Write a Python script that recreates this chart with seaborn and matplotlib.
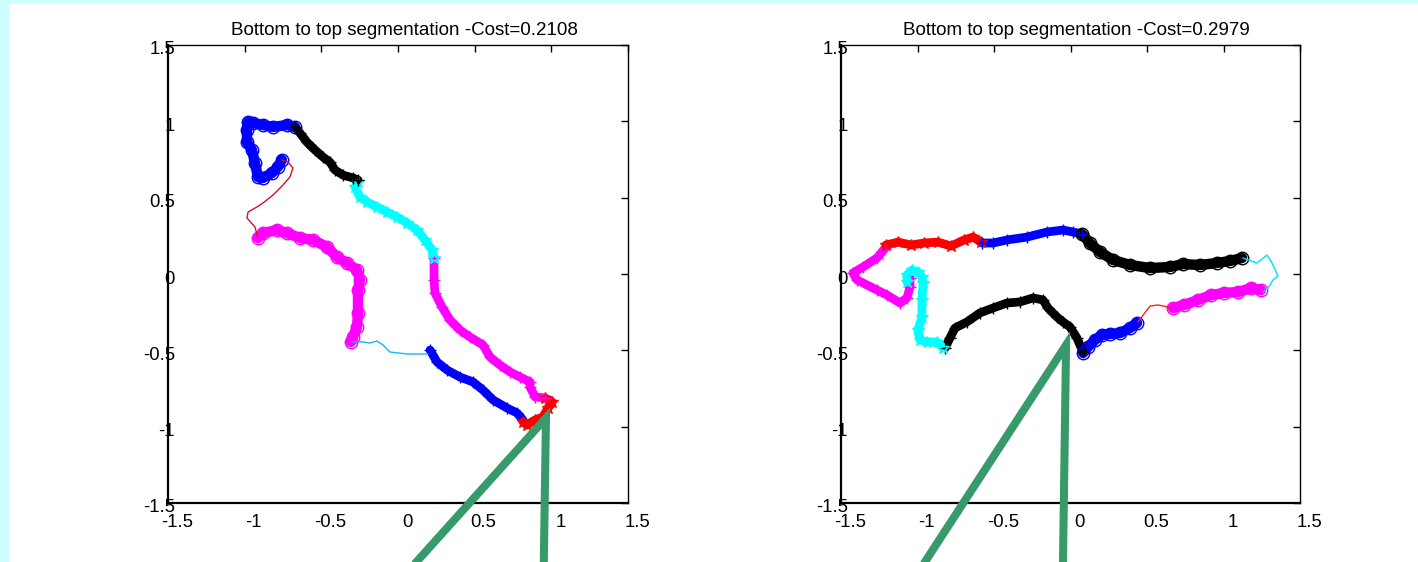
import numpy as np
import pandas as pd
import seaborn as sns
import matplotlib
matplotlib.use("Agg")
import matplotlib.pyplot as plt
from matplotlib.patches import Rectangle
from matplotlib.transforms import ScaledTranslation

# ---------------- data ----------------
titles = ["Bottom to top segmentation -Cost=0.2108",
          "Bottom to top segmentation -Cost=0.2979"]
tick_values = [-1.5, -1, -0.5, 0, 0.5, 1, 1.5]
tick_labels = ["-1.5", "-1", "-0.5", "0", "0.5", "1", "1.5"]

# left trajectory, segment by segment
l_blue_o_x = [-0.672, -0.724, -0.815, -0.881, -0.946, -0.978, -0.985, -0.985, -0.952, -0.933, -0.913, -0.881, -0.822, -0.783, -0.757]
l_blue_o_y = [0.963, 0.976, 0.963, 0.976, 0.989, 0.995, 0.943, 0.864, 0.812, 0.727, 0.635, 0.629, 0.661, 0.701, 0.747]
l_red_thin_x = [-0.757, -0.718, -0.685, -0.705, -0.750, -0.815, -0.881, -0.920, -0.978, -0.985, -0.933, -0.913]
l_red_thin_y = [0.747, 0.733, 0.694, 0.635, 0.583, 0.517, 0.465, 0.439, 0.406, 0.367, 0.308, 0.236]
l_mag_o_x = [-0.913, -0.881, -0.789, -0.724, -0.639, -0.554, -0.463, -0.398, -0.333, -0.267, -0.248, -0.261, -0.261, -0.267, -0.294, -0.307]
l_mag_o_y = [0.236, 0.268, 0.288, 0.268, 0.236, 0.223, 0.177, 0.111, 0.072, 0.026, -0.039, -0.105, -0.255, -0.347, -0.413, -0.445]
l_sky_thin_x = [-0.307, -0.228, -0.183, -0.137, -0.098, -0.052, 0.059, 0.196]
l_sky_thin_y = [-0.445, -0.445, -0.452, -0.439, -0.465, -0.511, -0.524, -0.524]
l_blue_p_x = [0.209, 0.254, 0.320, 0.404, 0.489, 0.554, 0.620, 0.711, 0.776, 0.815]
l_blue_p_y = [-0.498, -0.576, -0.629, -0.675, -0.707, -0.760, -0.825, -0.878, -0.910, -0.956]
l_red_s_x = [0.815, 0.841, 0.894, 0.946, 0.978, 1.005, 0.959]
l_red_s_y = [-0.969, -0.989, -0.956, -0.936, -0.878, -0.838, -0.812]
l_mag_p_x = [0.959, 0.894, 0.861, 0.861, 0.796, 0.731, 0.665, 0.600, 0.554, 0.470, 0.404, 0.339, 0.287, 0.241, 0.235, 0.235]
l_mag_p_y = [-0.812, -0.805, -0.740, -0.707, -0.675, -0.642, -0.596, -0.544, -0.465, -0.413, -0.367, -0.301, -0.216, -0.124, -0.039, 0.105]
l_cyan_s_x = [0.235, 0.222, 0.176, 0.124, 0.059, -0.007, -0.072, -0.137, -0.202, -0.248, -0.280, -0.261]
l_cyan_s_y = [0.105, 0.157, 0.223, 0.288, 0.334, 0.373, 0.406, 0.439, 0.472, 0.504, 0.570, 0.602]
l_black_p_x = [-0.261, -0.294, -0.359, -0.411, -0.444, -0.489, -0.541, -0.594, -0.639, -0.672]
l_black_p_y = [0.616, 0.629, 0.648, 0.681, 0.733, 0.766, 0.812, 0.864, 0.923, 0.963]

# right trajectory, segment by segment
r_mag_p_x = [-1.049, -1.049, -1.069, -1.114, -1.199, -1.265, -1.395, -1.422, -1.356, -1.265, -1.212]
r_mag_p_y = [-0.026, -0.085, -0.157, -0.190, -0.138, -0.105, -0.039, 0.007, 0.046, 0.105, 0.170]
r_red_s_x = [-1.206, -1.127, -1.042, -0.958, -0.866, -0.781, -0.696, -0.637, -0.585]
r_red_s_y = [0.190, 0.209, 0.190, 0.203, 0.209, 0.183, 0.223, 0.242, 0.209]
r_blue_p_x = [-0.578, -0.507, -0.415, -0.284, -0.154, -0.049, 0.016, 0.075]
r_blue_p_y = [0.203, 0.203, 0.223, 0.242, 0.275, 0.288, 0.275, 0.262]
r_black_o_x = [0.075, 0.127, 0.193, 0.278, 0.389, 0.520, 0.650, 0.735, 0.846, 0.957, 1.042, 1.121]
r_black_o_y = [0.262, 0.202, 0.144, 0.092, 0.059, 0.039, 0.046, 0.065, 0.059, 0.072, 0.085, 0.105]
r_cyan_thin_x = [1.127, 1.219, 1.284, 1.317, 1.356, 1.324, 1.291, 1.258]
r_cyan_thin_y = [0.105, 0.072, 0.124, 0.072, -0.013, -0.039, -0.092, -0.118]
r_mag_o_x = [1.245, 1.180, 1.095, 1.003, 0.918, 0.833, 0.742, 0.670]
r_mag_o_y = [-0.105, -0.092, -0.118, -0.124, -0.138, -0.170, -0.203, -0.223]
r_red_thin_x = [0.670, 0.572, 0.520, 0.500, 0.441]
r_red_thin_y = [-0.223, -0.203, -0.210, -0.236, -0.314]
r_blue_o_x = [0.435, 0.389, 0.324, 0.258, 0.206, 0.160, 0.114, 0.082]
r_blue_o_y = [-0.321, -0.354, -0.387, -0.393, -0.400, -0.432, -0.478, -0.517]
r_black_p_x = [0.082, 0.042, -0.003, -0.049, -0.088, -0.147, -0.180, -0.245, -0.330, -0.415, -0.507, -0.592, -0.677, -0.755, -0.788, -0.820]
r_black_p_y = [-0.511, -0.419, -0.347, -0.314, -0.282, -0.223, -0.170, -0.157, -0.183, -0.190, -0.223, -0.255, -0.314, -0.354, -0.419, -0.485]
r_cyan_s_x = [-0.833, -0.873, -0.938, -0.984, -0.997, -0.971, -0.971, -0.964, -0.971, -0.997, -1.036, -1.069, -1.069]
r_cyan_s_y = [-0.485, -0.445, -0.445, -0.432, -0.367, -0.282, -0.170, -0.059, -0.020, 0.013, 0.026, -0.007, -0.052]

# green pointer strokes (diagonal foot -> apex -> vertical foot)
l_pointer_x = [0.063, 0.965, 0.950]
l_pointer_y = [-1.95, -0.943, -1.95]
r_pointer_x = [-0.993, -0.029, -0.050]
r_pointer_y = [-1.95, -0.465, -1.95]

# ---------------- styling ----------------
BLUE, BLACK, CYAN, MAGENTA, RED = "#0000ff", "#000000", "#00ffff", "#ff00ff", "#ff0000"
GREEN = "#379a6a"

left_segments = [
    (l_blue_o_x, l_blue_o_y, BLUE, "o"),
    (l_red_thin_x, l_red_thin_y, "#d0102a", None),
    (l_mag_o_x, l_mag_o_y, MAGENTA, "o"),
    (l_sky_thin_x, l_sky_thin_y, "#1ab4f0", None),
    (l_blue_p_x, l_blue_p_y, BLUE, "+"),
    (l_red_s_x, l_red_s_y, RED, "*"),
    (l_mag_p_x, l_mag_p_y, MAGENTA, "+"),
    (l_cyan_s_x, l_cyan_s_y, CYAN, "*"),
    (l_black_p_x, l_black_p_y, BLACK, "+"),
]
right_segments = [
    (r_mag_p_x, r_mag_p_y, MAGENTA, "+"),
    (r_red_s_x, r_red_s_y, RED, "*"),
    (r_blue_p_x, r_blue_p_y, BLUE, "+"),
    (r_black_o_x, r_black_o_y, BLACK, "o"),
    (r_cyan_thin_x, r_cyan_thin_y, "#00e0f8", None),
    (r_mag_o_x, r_mag_o_y, MAGENTA, "o"),
    (r_red_thin_x, r_red_thin_y, "#ff2020", None),
    (r_blue_o_x, r_blue_o_y, BLUE, "o"),
    (r_black_p_x, r_black_p_y, BLACK, "+"),
    (r_cyan_s_x, r_cyan_s_y, CYAN, "*"),
]

sns.set_theme(style="white")
plt.rcParams["font.family"] = ["Liberation Sans", "DejaVu Sans"]
plt.rcParams["text.color"] = "black"
plt.rcParams["xtick.color"] = "black"
plt.rcParams["ytick.color"] = "black"

W, H, DPI = 1418, 562, 100
fig = plt.figure(figsize=(W / DPI, H / DPI), dpi=DPI, facecolor="#ccffff")
# white canvas area inside the cyan frame
fig.add_artist(Rectangle((10 / W, 0), 1 - 10 / W, (H - 4) / H,
                         transform=fig.transFigure, facecolor="white",
                         edgecolor="none", zorder=-10))

ax1 = fig.add_axes([168 / W, 59 / H, 460 / W, 458 / H])
ax2 = fig.add_axes([841 / W, 59 / H, 459 / W, 458 / H])


def draw_segments(ax, segments):
    for xs, ys, color, marker in segments:
        df = pd.DataFrame({"x": xs, "y": ys})
        if marker is None:
            sns.lineplot(data=df, x="x", y="y", sort=False, estimator=None,
                         color=color, lw=1.0, ax=ax, zorder=3)
        else:
            # dense marker trail: a thick stroke with the marker glyphs on top
            sns.lineplot(data=df, x="x", y="y", sort=False, estimator=None,
                         color=color, lw=7.5 if marker == "o" else 6.3,
                         solid_capstyle="round", solid_joinstyle="round",
                         ax=ax, zorder=2)
            sns.lineplot(data=df, x="x", y="y", sort=False, estimator=None,
                         color=color, lw=0, marker=marker,
                         markersize=9 if marker == "o" else 9,
                         mfc="none", mec=color, mew=1.0, ax=ax, zorder=2.5)


def style_axes(ax, title):
    ax.set_facecolor("white")
    ax.set_xlim(-1.5, 1.5)
    ax.set_ylim(-1.5, 1.5)
    ax.set_xticks(tick_values)
    ax.set_yticks(tick_values)
    ax.set_xticklabels(tick_labels)
    ax.set_yticklabels(tick_labels)
    ax.set_xlabel("")
    ax.set_ylabel("")
    ax.tick_params(axis="both", direction="in", length=5, width=1,
                   colors="black", labelsize=13.3, top=True, right=True)
    ax.tick_params(axis="x", pad=8)
    ax.tick_params(axis="y", pad=-5)
    for side, sp in ax.spines.items():
        sp.set_visible(True)
        sp.set_color("black")
        sp.set_linewidth(1.6 if side in ("left", "bottom") else 1.0)
    shift = ScaledTranslation(9 / DPI, 0, fig.dpi_scale_trans)
    for lab in ax.get_xticklabels():
        lab.set_transform(lab.get_transform() + shift)
    vshift = ScaledTranslation(0, -3 / DPI, fig.dpi_scale_trans)
    for lab in ax.get_yticklabels():
        lab.set_transform(lab.get_transform() + vshift)
    t = ax.set_title(title, fontsize=13.5, pad=7, color="black")
    t.set_transform(t.get_transform() + ScaledTranslation(6 / DPI, 0, fig.dpi_scale_trans))


for ax, segs, title, px, py in [(ax1, left_segments, titles[0], l_pointer_x, l_pointer_y),
                                 (ax2, right_segments, titles[1], r_pointer_x, r_pointer_y)]:
    draw_segments(ax, segs)
    pdf = pd.DataFrame({"x": px, "y": py})
    sns.lineplot(data=pdf, x="x", y="y", sort=False, estimator=None, color=GREEN,
                 lw=5.8, solid_joinstyle="miter", ax=ax, zorder=5, clip_on=False)
    style_axes(ax, title)

fig.savefig("out.png", dpi=DPI, facecolor=fig.get_facecolor())
